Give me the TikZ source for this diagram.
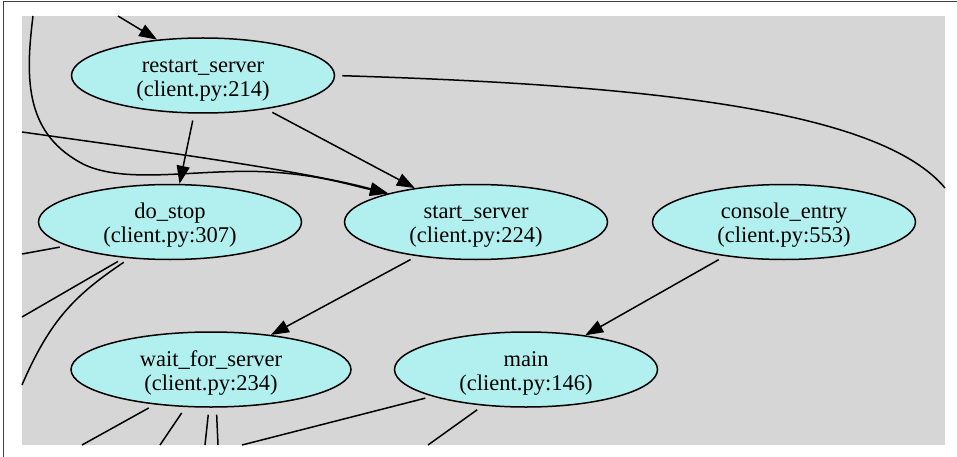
\documentclass[tikz,border=0pt]{standalone}
\usepackage{fontspec}
\setmainfont{Liberation Serif}
\usetikzlibrary{shapes.geometric,arrows.meta}
\definecolor{bggray}{HTML}{D6D6D6}
\definecolor{nodecyan}{HTML}{B2F0F0}
\newcommand{\funclabel}[2]{\rule{0pt}{22pt}#1\\(client.py:#2)}

\begin{document}
\begin{tikzpicture}[x=1pt, y=-1pt, line width=1.5pt,
	func/.style = {draw, ellipse, fill=nodecyan, inner sep=0pt, minimum width=263pt, minimum height=75pt, align=center, font=\fontsize{22.5}{24}\selectfont},
	call/.style = {-{Triangle[length=18pt,width=13pt]}, shorten <=7pt},
	into/.style = {-{Triangle[length=18pt,width=13pt]}},
	cut/.style = {-, shorten <=7pt}]
	
	\useasboundingbox (0,0) rectangle (957,457);
	\draw[line width=1pt, black!75] (3,457) -- (3,1.5) -- (957,1.5);
	\fill[bggray] (22,16) rectangle (945,445);
	
	\node[func] (restart) at (203,75.5) {\funclabel{restart\_server}{214}};
	\node[func] (dostop) at (170,222) {\funclabel{do\_stop}{307}};
	\node[func] (start) at (476,222) {\funclabel{start\_server}{224}};
	\node[func] (console) at (784,222) {\funclabel{console\_entry}{553}};
	\node[func, minimum width=280pt] (wait) at (211,369.5) {\funclabel{wait\_for\_server}{234}};
	\node[func] (main) at (526,369.5) {\funclabel{main}{146}};
	
	% loose ends at the edge of the gray area
	\coordinate (topin) at (118,16);
	\coordinate (topcurve) at (33,16);
	\coordinate (leftin) at (22,132);
	\coordinate (rightout) at (945,188);
	\coordinate (stopl) at (22,254);
	\coordinate (stopb1) at (22,317);
	\coordinate (stopb2) at (22,385);
	\coordinate (waitb1) at (82,445);
	\coordinate (waitb2) at (160,445);
	\coordinate (waitb3) at (205,445);
	\coordinate (waitb4) at (218,445);
	\coordinate (mainb1) at (242,445);
	\coordinate (mainb2) at (428,445);
	
	\draw[into] (topin) to (restart.142);
	\draw[call] (restart.-103) to (dostop.76);
	\draw[call] (restart.-28) to (start.151);
	\draw[into] (topcurve) .. controls (25,80) and (25,135) .. (85,165) .. controls (130,185) and (200,168) .. (270,172) .. controls (320,175) and (350,185) .. (start.162);
	\draw[into] (leftin) .. controls (150,150) and (300,170) .. (start.162);
	\draw[cut] (restart.east) .. controls (650,85) and (880,110) .. (rightout);
	
	\draw[cut] (dostop.193) to (stopl);
	\draw[cut] (dostop.-142) to (stopb1);
	\draw[cut] (dostop.-138) .. controls (75,295) and (50,320) .. (stopb2);
	
	\draw[call] (start.-150) to (wait.30);
	\draw[call] (console.-150) to (main.30);
	
	\draw[cut] (wait.-148) to (waitb1);
	\draw[cut] (wait.-124) to (waitb2);
	\draw[cut] (wait.-93) to (waitb3);
	\draw[cut] (wait.-82) to (waitb4);
	\draw[cut] (main.-164) to (mainb1);
	\draw[cut] (main.-140) to (mainb2);
	
\end{tikzpicture}
\end{document}
